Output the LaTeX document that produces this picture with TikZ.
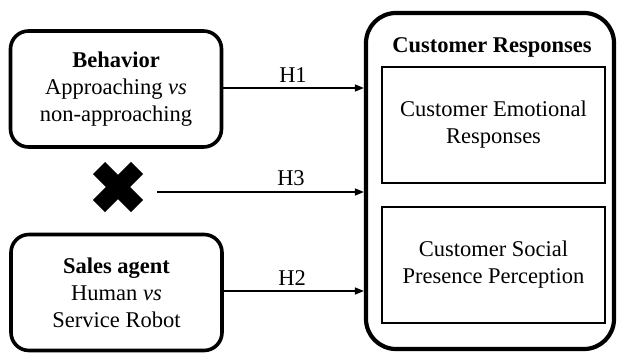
\documentclass[tikz,border=0pt]{standalone}
\usepackage{fontspec}
\setmainfont{Liberation Serif}
\usetikzlibrary{arrows.meta}
\begin{document}
\begin{tikzpicture}[x=1pt,y=-1pt,
  font=\fontsize{22.5}{27}\selectfont,
  factor/.style={draw,line width=3.6pt,rounded corners=18pt,align=center,
    inner sep=0pt,minimum width=211pt,minimum height=116pt},
  outcome/.style={draw,line width=1.4pt,align=center,inner sep=0pt,
    minimum width=223pt,minimum height=116pt},
  link/.style={line width=1.4pt,-{Triangle[length=9pt,width=7pt]}},
  hlabel/.style={inner sep=0pt}]
\useasboundingbox (0,0) rectangle (618,353);

% outer group of responses
\node[draw,line width=4.2pt,rounded corners=30pt,minimum width=248pt,
      minimum height=336pt,inner sep=0pt] (resp) at (490,181) {};
\node[font=\fontsize{22.5}{27}\selectfont\bfseries] (title) at (492,47) {Customer Responses};
\node[outcome] (emo) at (493.5,125) {Customer Emotional\\Responses};
\node[outcome] (soc) at (493.5,265) {Customer Social\\Presence Perception};

% manipulated factors
\node[factor] (beh) at (116,89) {\textbf{Behavior}\\Approaching \textit{vs}\\non-approaching};
\node[factor] (agent) at (116.5,292.5) {\textbf{Sales agent}\\Human \textit{vs}\\Service Robot};

% interaction marker
\node[minimum size=52pt,inner sep=0pt] (cross) at (118,187) {};
\draw[line width=17pt,line cap=butt]
  ([shift={(-19,-19)}]cross.center) -- ([shift={(19,19)}]cross.center)
  ([shift={(-19,19)}]cross.center) -- ([shift={(19,-19)}]cross.center);
\coordinate (h3start) at ([xshift=13pt]cross.east);

% hypotheses
\draw[link] ([yshift=1pt]beh.east) -- ([yshift=1pt]beh.east -| resp.west);
\draw[link] (h3start |- 0,192) -- (resp.west |- 0,192);
\draw[link] ([yshift=1.5pt]agent.east) -- ([yshift=1.5pt]agent.east -| resp.west);

\node[hlabel] (h1) at (293,75) {H1};
\node[hlabel] (h3) at (291,178) {H3};
\node[hlabel] (h2) at (292,278) {H2};
\end{tikzpicture}
\end{document}
